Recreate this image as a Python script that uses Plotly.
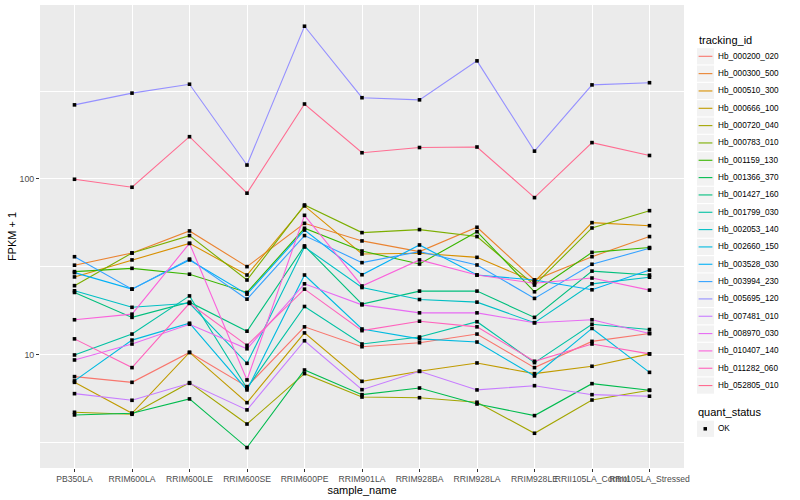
import plotly.graph_objects as go

# ---------------- data ----------------
samples = ["PB350LA", "RRIM600LA", "RRIM600LE", "RRIM600SE", "RRIM600PE",
           "RRIM901LA", "RRIM928BA", "RRIM928LA", "RRIM928LE",
           "RRII105LA_Control", "RRII105LA_Stressed"]

hb_000200_020 = [7.50, 6.96, 10.3, 6.58, 14.4, 11.1, 11.7, 13.1, 8.44, 11.9, 13.2]
hb_000300_500 = [32.3, 37.9, 50.6, 31.7, 55.9, 44.4, 38.6, 53.1, 26.6, 36.1, 47.0]
hb_000510_300 = [27.7, 34.6, 43.0, 28.4, 70.2, 37.4, 37.8, 35.8, 26.0, 56.4, 54.2]
hb_000666_100 = [6.96, 4.64, 10.3, 5.33, 13.3, 7.05, 8.04, 8.97, 7.80, 8.59, 10.1]
hb_000720_040 = [4.70, 4.58, 6.93, 4.03, 7.80, 5.74, 5.69, 5.36, 3.57, 5.52, 6.27]
hb_000783_010 = [24.7, 37.9, 47.6, 26.6, 71.1, 49.5, 51.5, 47.0, 24.9, 52.6, 66.0]
hb_001159_130 = [29.7, 31.0, 28.7, 22.6, 52.4, 38.9, 32.8, 50.1, 22.8, 38.2, 40.7]
hb_001366_370 = [4.54, 4.64, 5.60, 2.96, 8.18, 5.92, 6.46, 5.24, 4.50, 6.84, 6.27]
hb_001427_160 = [22.6, 16.3, 19.9, 13.6, 41.6, 19.4, 23.0, 23.0, 16.3, 29.9, 28.4]
hb_001799_030 = [9.96, 13.1, 21.6, 6.44, 18.8, 11.5, 12.6, 15.4, 9.01, 14.9, 13.9]
hb_002053_140 = [23.1, 18.6, 19.6, 8.93, 41.0, 24.1, 20.6, 19.9, 15.2, 25.3, 27.6]
hb_002660_150 = [7.09, 12.1, 15.1, 6.30, 28.4, 14.0, 12.3, 11.8, 7.56, 14.1, 7.93]
hb_003528_030 = [29.3, 23.6, 34.6, 22.1, 51.2, 28.5, 42.1, 28.4, 26.6, 23.4, 30.3]
hb_003994_230 = [36.1, 23.6, 35.0, 20.7, 47.6, 33.4, 38.6, 32.4, 20.9, 32.7, 40.3]
hb_005695_120 = [264, 308, 346, 120, 740, 290, 282, 470, 144, 343, 353]
hb_007481_010 = [6.00, 5.50, 6.87, 4.85, 12.0, 6.32, 8.04, 6.30, 6.66, 5.92, 5.80]
hb_008970_030 = [9.33, 11.5, 14.9, 10.8, 25.3, 19.2, 17.3, 17.3, 15.2, 15.8, 13.2]
hb_010407_140 = [15.8, 17.0, 43.0, 7.18, 62.1, 24.6, 34.6, 28.4, 25.5, 27.3, 23.3]
hb_011282_060 = [12.3, 8.44, 19.6, 11.3, 23.6, 13.7, 15.5, 14.4, 9.17, 11.5, 10.1]
hb_052805_010 = [99.6, 89.7, 174, 83.0, 267, 141, 151, 152, 78.3, 161, 136]

tracking_ids = ["Hb_000200_020", "Hb_000300_500", "Hb_000510_300", "Hb_000666_100",
                "Hb_000720_040", "Hb_000783_010", "Hb_001159_130", "Hb_001366_370",
                "Hb_001427_160", "Hb_001799_030", "Hb_002053_140", "Hb_002660_150",
                "Hb_003528_030", "Hb_003994_230", "Hb_005695_120", "Hb_007481_010",
                "Hb_008970_030", "Hb_010407_140", "Hb_011282_060", "Hb_052805_010"]
series_values = [hb_000200_020, hb_000300_500, hb_000510_300, hb_000666_100,
                 hb_000720_040, hb_000783_010, hb_001159_130, hb_001366_370,
                 hb_001427_160, hb_001799_030, hb_002053_140, hb_002660_150,
                 hb_003528_030, hb_003994_230, hb_005695_120, hb_007481_010,
                 hb_008970_030, hb_010407_140, hb_011282_060, hb_052805_010]
quant_status = "OK"
y_ticks = [10, 100]

# ggplot2 hue palette for 20 levels
colors = ["#F8766D", "#EA8331", "#D89000", "#C09B00", "#A3A500", "#7CAE00",
          "#39B600", "#00BB4E", "#00BF7D", "#00C1A3", "#00BFC4", "#00BAE0",
          "#00B0F6", "#35A2FF", "#9590FF", "#C77CFF", "#E76BF3", "#FA62DB",
          "#FF62BC", "#FF6C91"]

FONT = "Liberation Sans, Arial, sans-serif"
W, H = 800, 500
ML, MR, MT, MB = 40, 116, 5, 32
PW, PH = W - ML - MR, H - MT - MB


def px_x(px):
    return (px - ML) / PW


def px_y(py):
    return (H - MB - py) / PH


fig = go.Figure()
for name, vals, col in zip(tracking_ids, series_values, colors):
    fig.add_trace(go.Scatter(x=samples, y=vals, mode="lines", name=name,
                             line=dict(color=col, width=1.1), showlegend=False))

all_x = [s for vals in series_values for s in samples]
all_y = [v for vals in series_values for v in vals]
fig.add_trace(go.Scatter(x=all_x, y=all_y, mode="markers", name=quant_status,
                         marker=dict(color="black", size=3.6, symbol="square"),
                         showlegend=False))

# ---------------- ggplot-like legends (built from names / colours) ----------------
shapes, annotations = [], []
KEY_L, KEY_R = 697, 714
STEP = 17.33
annotations.append(dict(text="tracking_id", x=px_x(696.5), y=px_y(40.5), xref="paper", yref="paper",
                        xanchor="left", yanchor="middle", showarrow=False,
                        font=dict(size=11, color="black", family=FONT)))
for i, (name, col) in enumerate(zip(tracking_ids, colors)):
    cy = 56.3 + STEP * i
    shapes.append(dict(type="rect", xref="paper", yref="paper", layer="below",
                       x0=px_x(KEY_L), x1=px_x(KEY_R), y0=px_y(cy - 8.1), y1=px_y(cy + 8.1),
                       fillcolor="#F2F2F2", line=dict(width=0)))
    shapes.append(dict(type="line", xref="paper", yref="paper",
                       x0=px_x(698.6), x1=px_x(712.4), y0=px_y(cy), y1=px_y(cy),
                       line=dict(color=col, width=1.1)))
    annotations.append(dict(text=name, x=px_x(716.3), y=px_y(cy), xref="paper", yref="paper",
                            xanchor="left", yanchor="middle", showarrow=False,
                            font=dict(size=8.2, color="black", family=FONT)))

annotations.append(dict(text="quant_status", x=px_x(696), y=px_y(412.3), xref="paper", yref="paper",
                        xanchor="left", yanchor="middle", showarrow=False,
                        font=dict(size=11, color="black", family=FONT)))
ok_cy = 428.8
shapes.append(dict(type="rect", xref="paper", yref="paper", layer="below",
                   x0=px_x(KEY_L), x1=px_x(KEY_R), y0=px_y(ok_cy - 8.1), y1=px_y(ok_cy + 8.1),
                   fillcolor="#F2F2F2", line=dict(width=0)))
shapes.append(dict(type="rect", xref="paper", yref="paper",
                   x0=px_x(703.5), x1=px_x(707.0), y0=px_y(ok_cy - 1.75), y1=px_y(ok_cy + 1.75),
                   fillcolor="black", line=dict(width=0)))
annotations.append(dict(text=quant_status, x=px_x(716.3), y=px_y(ok_cy), xref="paper", yref="paper",
                        xanchor="left", yanchor="middle", showarrow=False,
                        font=dict(size=8.2, color="black", family=FONT)))

fig.update_layout(
    width=W, height=H,
    margin=dict(l=ML, r=MR, t=MT, b=MB, autoexpand=False),
    paper_bgcolor="white", plot_bgcolor="#EBEBEB",
    font=dict(family=FONT, color="black"),
    showlegend=False,
    shapes=shapes, annotations=annotations,
)
fig.update_xaxes(type="category", categoryorder="array", categoryarray=samples,
                 range=[-0.6, 10.6], tickangle=0, automargin=False,
                 showgrid=True, gridcolor="white", gridwidth=1.1,
                 ticks="outside", ticklen=3, tickcolor="#333333", tickwidth=1,
                 tickfont=dict(size=8.6, color="#4D4D4D"),
                 title=dict(text="sample_name", font=dict(size=11), standoff=0),
                 zeroline=False, showline=False)
fig.update_yaxes(type="log", range=[0.355, 2.990], automargin=False,
                 tickvals=y_ticks, ticktext=[str(t) for t in y_ticks],
                 showgrid=True, gridcolor="white", gridwidth=1.1,
                 minor=dict(tickvals=[10 ** 0.5, 10 ** 1.5, 10 ** 2.5], showgrid=True,
                            gridcolor="white", gridwidth=0.55, ticks=""),
                 ticks="outside", ticklen=3, tickcolor="#333333", tickwidth=1,
                 tickfont=dict(size=8.8, color="#4D4D4D"),
                 title=dict(text="FPKM + 1", font=dict(size=11), standoff=0),
                 zeroline=False, showline=False)

fig.write_html("out.html", config={"displayModeBar": False},
               post_script="document.body.style.margin='0';document.body.style.overflow='hidden';")
